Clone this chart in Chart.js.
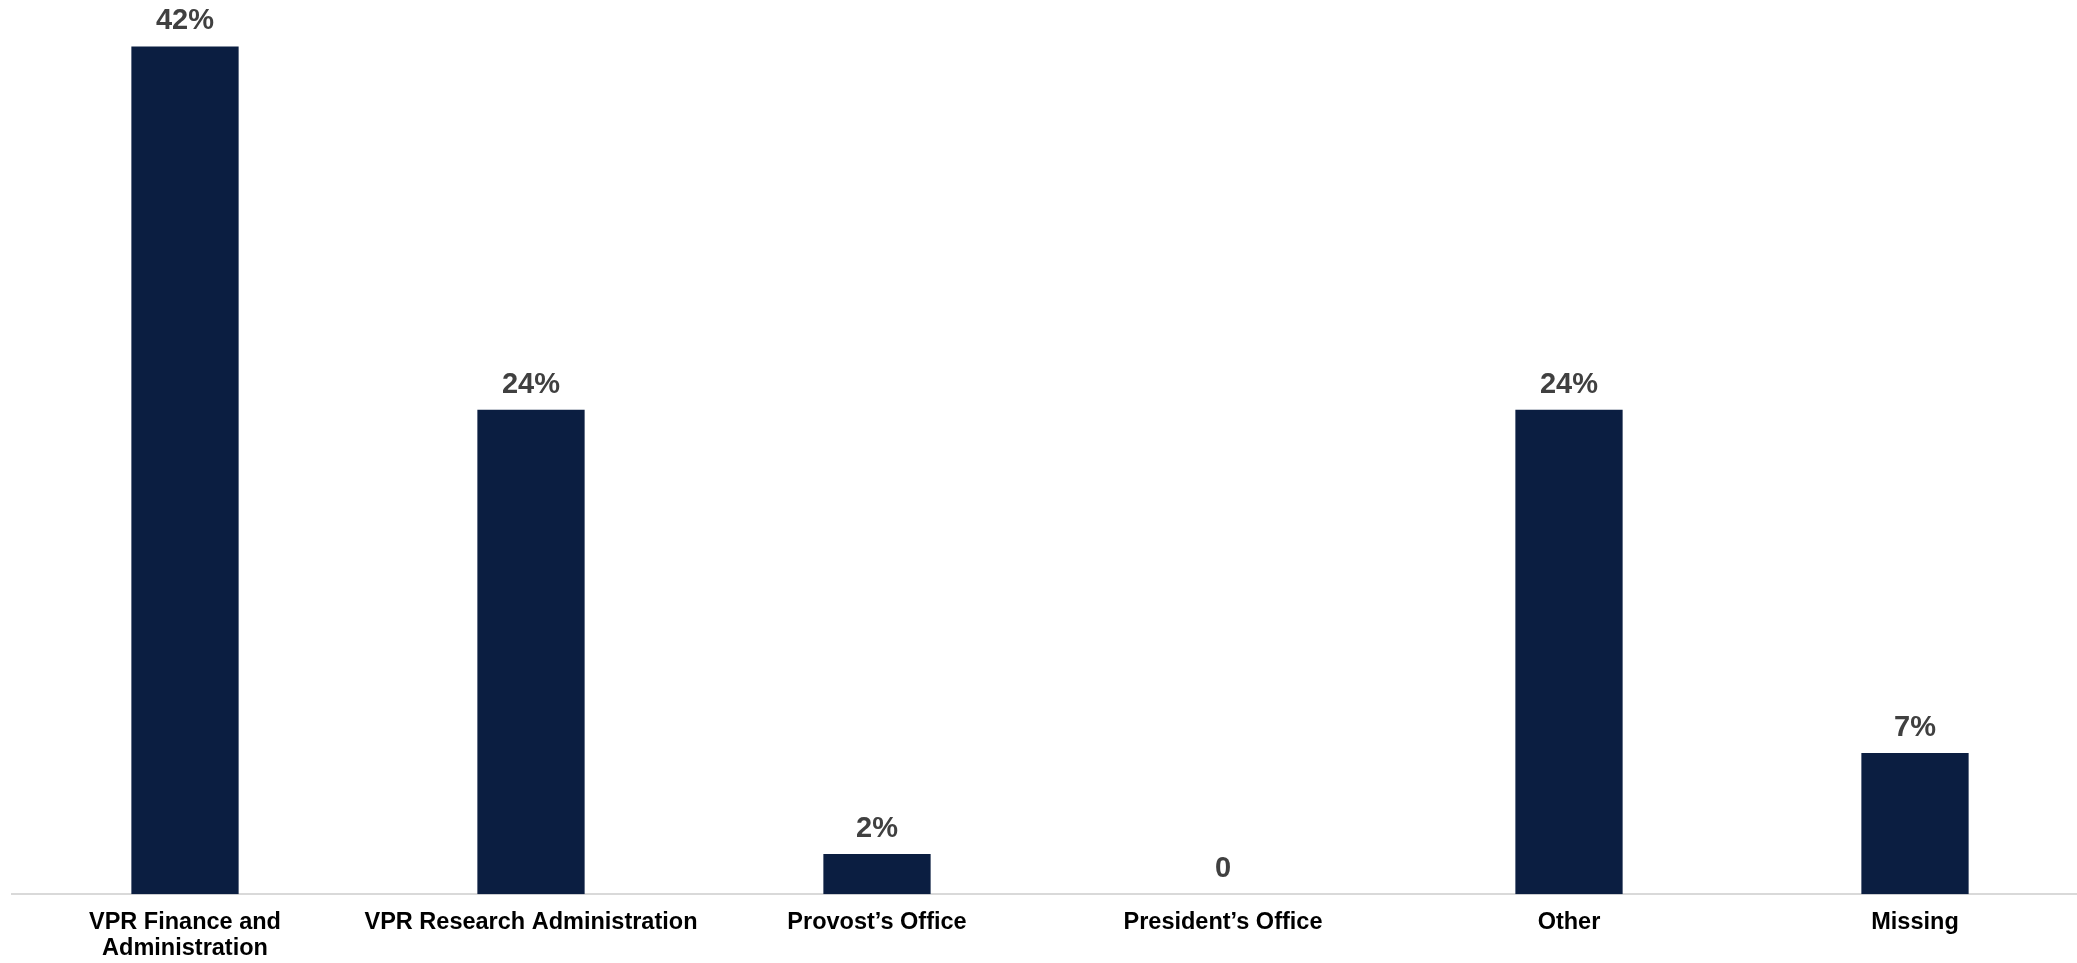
<!DOCTYPE html>
<html>
<head>
<meta charset="utf-8">
<title>Reporting unit</title>
<script src="https://cdn.jsdelivr.net/npm/chart.js@4.4.1/dist/chart.umd.min.js"></script>
<style>
  html, body { margin: 0; padding: 0; background: #ffffff; overflow: hidden; }
  #wrap { position: relative; width: 2088px; height: 979px; }
</style>
</head>
<body>
<div id="wrap"><canvas id="chart"></canvas></div>
<script>
// Categories (multi-line where the label wraps)
const categories = [
  ['VPR Finance and', 'Administration'],
  'VPR Research Administration',
  'Provost\u2019s Office',
  'President\u2019s Office',
  'Other',
  'Missing'
];
// Share of respondents, in percent
const shares = [42, 24, 2, 0, 24, 7];
// Text printed above each bar
const shareLabels = shares.map(v => (v === 0 ? '0' : v + '%'));

const BAR_COLOR = '#0b1e41';
const FONT = '"Liberation Sans", Arial, Helvetica, sans-serif';

// Draws the value text above each bar
const valueLabels = {
  id: 'valueLabels',
  afterDatasetsDraw(chart) {
    const ctx = chart.ctx;
    const meta = chart.getDatasetMeta(0);
    ctx.save();
    ctx.font = 'bold 29px ' + FONT;
    ctx.fillStyle = '#404040';
    ctx.textAlign = 'center';
    ctx.textBaseline = 'alphabetic';
    meta.data.forEach((bar, i) => {
      ctx.fillText(shareLabels[i], bar.x, bar.y - 17);
    });
    ctx.restore();
  }
};

new Chart(document.getElementById('chart'), {
  type: 'bar',
  data: {
    labels: categories,
    datasets: [{
      data: shares,
      backgroundColor: BAR_COLOR,
      borderWidth: 0,
      barPercentage: 1,
      categoryPercentage: 0.31
    }]
  },
  options: {
    responsive: true,
    maintainAspectRatio: false,
    animation: false,
    layout: { padding: { top: 6, left: 12, right: 0, bottom: 2 } },
    plugins: {
      legend: { display: false },
      tooltip: { enabled: false }
    },
    scales: {
      x: {
        grid: { display: false, drawTicks: false },
        border: { display: true, color: '#d9d9d9', width: 2 },
        ticks: {
          color: '#000000',
          padding: 15,
          maxRotation: 0,
          autoSkip: false,
          font: { family: FONT, size: 23.5, weight: 'bold', lineHeight: 1.12 }
        }
      },
      y: {
        display: false,
        min: 0,
        max: 44
      }
    }
  },
  plugins: [valueLabels]
});
</script>
</body>
</html>
